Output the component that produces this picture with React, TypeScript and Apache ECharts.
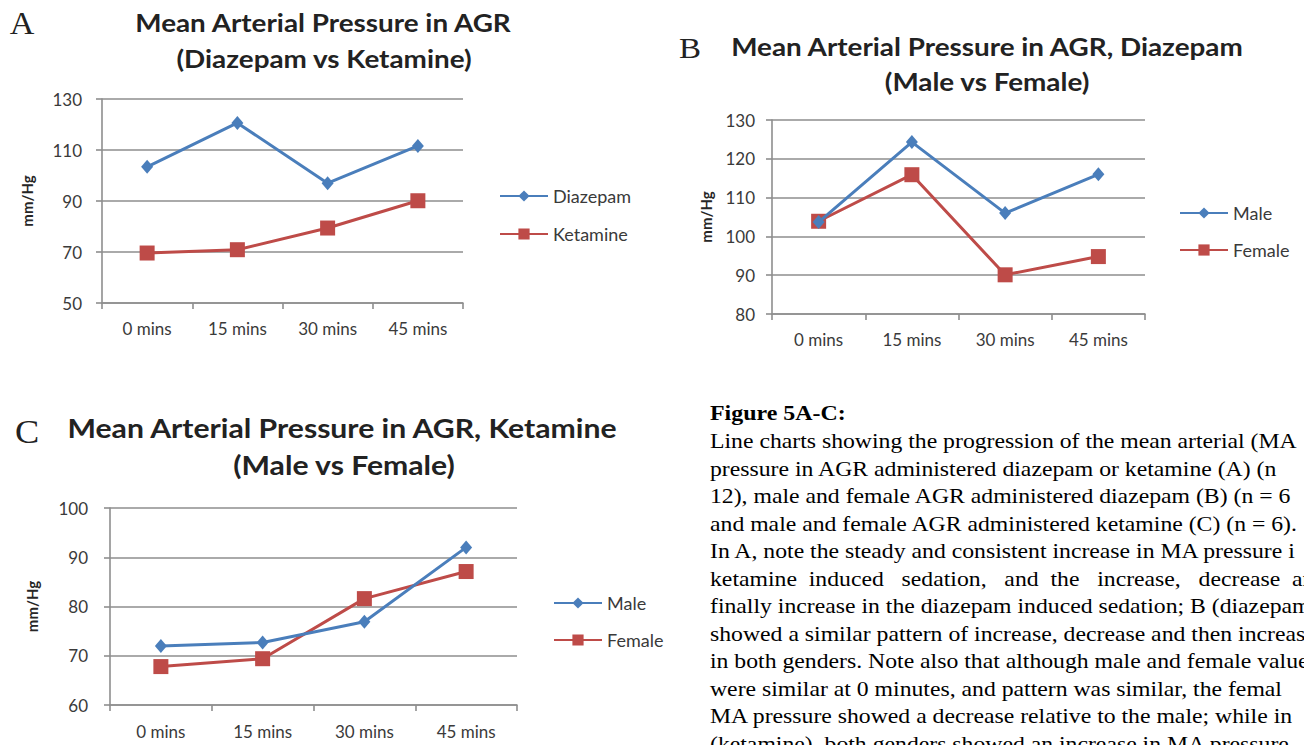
import React, { useEffect, useRef } from "react";
import * as echarts from "echarts";

// ---------- data ----------
const categories = ["0 mins", "15 mins", "30 mins", "45 mins"];

const diazepamA = [103.4, 120.6, 97.0, 111.6];
const ketamineA = [69.6, 70.9, 79.4, 90.1];

const maleB = [103.7, 124.3, 106.0, 116.0];
const femaleB = [103.9, 115.9, 90.1, 94.8];

const maleC = [72.0, 72.7, 76.9, 92.0];
const femaleC = [67.8, 69.4, 81.6, 87.1];

// [min, max, interval]
const yRangeA = [50, 130, 20];
const yRangeB = [80, 130, 10];
const yRangeC = [60, 100, 10];

const titleA = ["Mean Arterial Pressure in AGR", "(Diazepam vs Ketamine)"];
const titleB = ["Mean Arterial Pressure in AGR, Diazepam", "(Male vs Female)"];
const titleC = ["Mean Arterial Pressure in AGR, Ketamine", "(Male vs Female)"];
const yName = "mm/Hg";

const captionHead = "Figure 5A-C:";
const captionLines = [
  "Line charts showing the progression of the mean arterial (MA",
  "pressure in AGR administered diazepam or ketamine (A) (n",
  "12), male and female AGR administered diazepam (B) (n = 6",
  "and male and female AGR administered ketamine (C) (n = 6).",
  "In A, note the steady and consistent increase in MA pressure i",
  "ketamine  induced   sedation,   and  the   increase,   decrease  an",
  "finally increase in the diazepam induced sedation; B (diazepam",
  "showed a similar pattern of increase, decrease and then increas",
  "in both genders. Note also that although male and female value",
  "were similar at 0 minutes, and pattern was similar, the femal",
  "MA pressure showed a decrease relative to the male; while in",
  "(ketamine), both genders showed an increase in MA pressure.",
];

// ---------- style ----------
const BLUE = "#4A7EBB";
const RED = "#BE4B48";
const GRIDC = "#8E8E8E";
const TXT = "#3A3A3A";
const SANS = "Lato, 'Open Sans', sans-serif";
const SERIF = "'Liberation Serif', 'DejaVu Serif', serif";

function xAx(gridIndex: number, fs: number, margin: number) {
  return {
    gridIndex,
    type: "category",
    data: categories,
    boundaryGap: true,
    axisLine: { lineStyle: { color: GRIDC, width: 1.6 } },
    axisTick: { show: true, length: 6, lineStyle: { color: GRIDC, width: 1.6 } },
    axisLabel: { color: TXT, fontFamily: SANS, fontSize: fs, margin },
    splitLine: { show: false },
  };
}

function yAx(gridIndex: number, r: number[], fs: number, margin: number, nameGap: number) {
  return {
    gridIndex,
    type: "value",
    min: r[0],
    max: r[1],
    interval: r[2],
    axisLine: { show: true, lineStyle: { color: GRIDC, width: 1.6 } },
    axisTick: { show: true, length: 6, lineStyle: { color: GRIDC, width: 1.6 } },
    axisLabel: { color: TXT, fontFamily: SANS, fontSize: fs, margin },
    splitLine: { show: true, lineStyle: { color: GRIDC, width: 1.6 } },
    name: yName,
    nameLocation: "middle",
    nameRotate: 90,
    nameGap,
    nameTextStyle: { color: "#262626", fontFamily: SANS, fontWeight: "bold", fontSize: 15 },
  };
}

function ser(name: string, data: number[], idx: number, blue: boolean) {
  return {
    type: "line",
    name,
    data,
    xAxisIndex: idx,
    yAxisIndex: idx,
    symbol: blue ? "diamond" : "rect",
    symbolSize: blue ? [12, 14] : [15, 15],
    lineStyle: { color: blue ? BLUE : RED, width: 3 },
    itemStyle: { color: blue ? BLUE : RED },
    z: blue ? 3 : 2,
  };
}

function leg(names: string[], left: number, top: number, fs: number, gap: number) {
  return {
    orient: "vertical",
    left,
    top,
    itemWidth: 48,
    itemHeight: 14,
    itemGap: gap,
    textStyle: { color: TXT, fontFamily: SANS, fontSize: fs },
    data: names,
  };
}

function txt(text: string, x: number, y: number, font: string, sx: number, align = "center", fill = "#222") {
  return {
    type: "text",
    x,
    y,
    scaleX: sx,
    silent: true,
    style: {
      text,
      font,
      fill,
      align,
      verticalAlign: "middle",
      textAlign: align,
      textVerticalAlign: "middle",
    },
  };
}

export default function App() {
  const ref = useRef<HTMLDivElement>(null);

  useEffect(() => {
    document.body.style.margin = "0";
    document.body.style.overflow = "hidden";
    if (!ref.current) return;
    const chart = echarts.init(ref.current, undefined, { renderer: "svg" });

    const titleFont = (s: number) => `bold ${s}px ${SANS}`;
    const graphics: any[] = [
      txt("A", 22, 24, `31px ${SERIF}`, 1.1),
      txt(titleA[0], 323, 23, titleFont(24), 1.16),
      txt(titleA[1], 324, 59, titleFont(24), 1.16),
      txt("B", 690, 48, `30px ${SERIF}`, 1.1),
      txt(titleB[0], 987, 47, titleFont(24), 1.16),
      txt(titleB[1], 987, 82, titleFont(24), 1.16),
      txt("C", 27, 432, `33px ${SERIF}`, 1.1),
      txt(titleC[0], 342, 428, titleFont(26), 1.16),
      txt(titleC[1], 344, 465, titleFont(26), 1.16),
      txt(captionHead, 710, 413, `bold 21px ${SERIF}`, 1.14, "left", "#000"),
    ];
    captionLines.forEach((line, i) => {
      graphics.push(txt(line, 710, 441 + 27.5 * i, `21px ${SERIF}`, 1.13, "left", "#000"));
    });

    chart.setOption({
      animation: false,
      backgroundColor: "#ffffff",
      grid: [
        { left: 102, top: 99, width: 361, height: 204 },
        { left: 772, top: 120, width: 373, height: 194 },
        { left: 110, top: 508, width: 407, height: 197 },
      ],
      xAxis: [xAx(0, 17, 17), xAx(1, 17, 17), xAx(2, 17, 18)],
      yAxis: [
        yAx(0, yRangeA, 17, 20, 68),
        yAx(1, yRangeB, 17, 17, 59),
        yAx(2, yRangeC, 17, 22, 71),
      ],
      legend: [
        leg(["Diazepam", "Ketamine"], 494, 182, 18, 20),
        leg(["Male", "Female"], 1174, 199, 18, 19),
        leg(["Male", "Female"], 548, 589, 18, 19),
      ],
      series: [
        ser("Diazepam", diazepamA, 0, true),
        ser("Ketamine", ketamineA, 0, false),
        ser("Male", maleB, 1, true),
        ser("Female", femaleB, 1, false),
        ser("Male", maleC, 2, true),
        ser("Female", femaleC, 2, false),
      ],
      graphic: graphics,
    });

    return () => chart.dispose();
  }, []);

  return <div ref={ref} style={{ width: 1304, height: 745, overflow: "hidden" }} />;
}
